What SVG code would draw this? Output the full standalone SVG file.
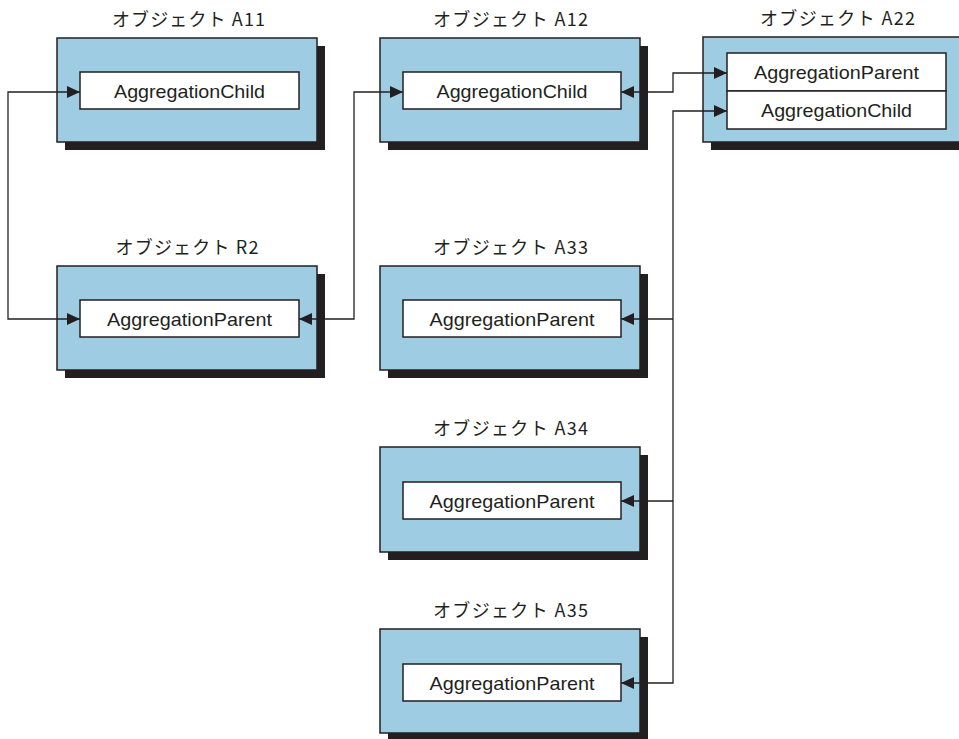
<svg xmlns="http://www.w3.org/2000/svg" width="959" height="739" viewBox="0 0 959 739">
  <style>
    .shadow { fill: #231f20; }
    .obj { fill: #9ecce3; stroke: #231f20; stroke-width: 1.5; }
    .attr { fill: #ffffff; stroke: #231f20; stroke-width: 1.5; }
    .title { font-family: "Noto Sans CJK JP", "DejaVu Sans", sans-serif; font-size: 18px; font-weight: 400; fill: #231f20; text-anchor: middle; }
    .label { font-family: "Liberation Sans", Arial, sans-serif; font-size: 19px; fill: #231f20; text-anchor: middle; }
    .conn { fill: none; stroke: #231f20; stroke-width: 1.3; marker-end: url(#arrow); }
    .both { marker-start: url(#arrow); }
  </style>
  <defs>
    <marker id="arrow" viewBox="0 0 13 12" refX="13" refY="6" markerWidth="13" markerHeight="12" markerUnits="userSpaceOnUse" orient="auto-start-reverse">
      <path d="M0,0 L13,6 L0,12 Z" fill="#231f20"/>
    </marker>
  </defs>
  <rect width="959" height="739" fill="#ffffff"/>

  <!-- Object A11 -->
  <g id="obj-a11">
    <text class="title" x="188.5" y="26" textLength="153" lengthAdjust="spacing">オブジェクト A11</text>
    <rect class="shadow" x="65" y="46" width="260" height="104"/>
    <rect class="obj" x="57" y="38" width="260" height="104"/>
    <rect class="attr" x="80" y="72" width="219" height="37"/>
    <text class="label" x="189.5" y="97.5" textLength="151" lengthAdjust="spacingAndGlyphs">AggregationChild</text>
  </g>

  <!-- Object A12 -->
  <g id="obj-a12">
    <text class="title" x="510.5" y="26" textLength="155" lengthAdjust="spacing">オブジェクト A12</text>
    <rect class="shadow" x="388" y="46" width="260" height="104"/>
    <rect class="obj" x="380" y="38" width="260" height="104"/>
    <rect class="attr" x="403" y="72" width="218" height="37"/>
    <text class="label" x="512" y="97.5" textLength="151" lengthAdjust="spacingAndGlyphs">AggregationChild</text>
  </g>

  <!-- Object A22 -->
  <g id="obj-a22">
    <text class="title" x="837.5" y="25" textLength="155" lengthAdjust="spacing">オブジェクト A22</text>
    <rect class="shadow" x="711" y="45" width="260" height="105"/>
    <rect class="obj" x="703" y="37" width="264" height="105"/>
    <rect class="attr" x="727" y="53" width="219" height="38"/>
    <rect class="attr" x="727" y="91" width="219" height="38"/>
    <text class="label" x="836.5" y="78.5" textLength="165" lengthAdjust="spacingAndGlyphs">AggregationParent</text>
    <text class="label" x="836.5" y="116.5" textLength="151" lengthAdjust="spacingAndGlyphs">AggregationChild</text>
  </g>

  <!-- Object R2 -->
  <g id="obj-r2">
    <text class="title" x="187" y="254" textLength="143" lengthAdjust="spacing">オブジェクト R2</text>
    <rect class="shadow" x="65" y="274" width="260" height="104"/>
    <rect class="obj" x="57" y="266" width="260" height="104"/>
    <rect class="attr" x="80" y="300" width="219" height="37"/>
    <text class="label" x="189.5" y="326" textLength="165" lengthAdjust="spacingAndGlyphs">AggregationParent</text>
  </g>

  <!-- Object A33 -->
  <g id="obj-a33">
    <text class="title" x="510.5" y="254" textLength="155" lengthAdjust="spacing">オブジェクト A33</text>
    <rect class="shadow" x="388" y="274" width="260" height="104"/>
    <rect class="obj" x="380" y="266" width="260" height="104"/>
    <rect class="attr" x="403" y="300" width="218" height="37"/>
    <text class="label" x="512" y="326" textLength="165" lengthAdjust="spacingAndGlyphs">AggregationParent</text>
  </g>

  <!-- Object A34 -->
  <g id="obj-a34">
    <text class="title" x="510.5" y="435" textLength="155" lengthAdjust="spacing">オブジェクト A34</text>
    <rect class="shadow" x="388" y="455" width="260" height="105"/>
    <rect class="obj" x="380" y="447" width="260" height="105"/>
    <rect class="attr" x="403" y="482" width="218" height="37"/>
    <text class="label" x="512" y="508" textLength="165" lengthAdjust="spacingAndGlyphs">AggregationParent</text>
  </g>

  <!-- Object A35 -->
  <g id="obj-a35">
    <text class="title" x="510.5" y="617" textLength="155" lengthAdjust="spacing">オブジェクト A35</text>
    <rect class="shadow" x="388" y="637" width="260" height="104"/>
    <rect class="obj" x="380" y="629" width="260" height="104"/>
    <rect class="attr" x="403" y="664" width="218" height="37"/>
    <text class="label" x="512" y="690" textLength="165" lengthAdjust="spacingAndGlyphs">AggregationParent</text>
  </g>

  <!-- Connectors -->
  <g id="connectors">
    <path class="conn both" d="M80,92 H8 V319 H80"/>
    <path class="conn both" d="M299,319 H354 V92 H403"/>
    <path class="conn both" d="M621,92 H673 V73 H727"/>
    <path class="conn both" d="M727,111 H673 V683 H621"/>
    <path class="conn" d="M673,319 H621"/>
    <path class="conn" d="M673,501 H621"/>
  </g>
</svg>
